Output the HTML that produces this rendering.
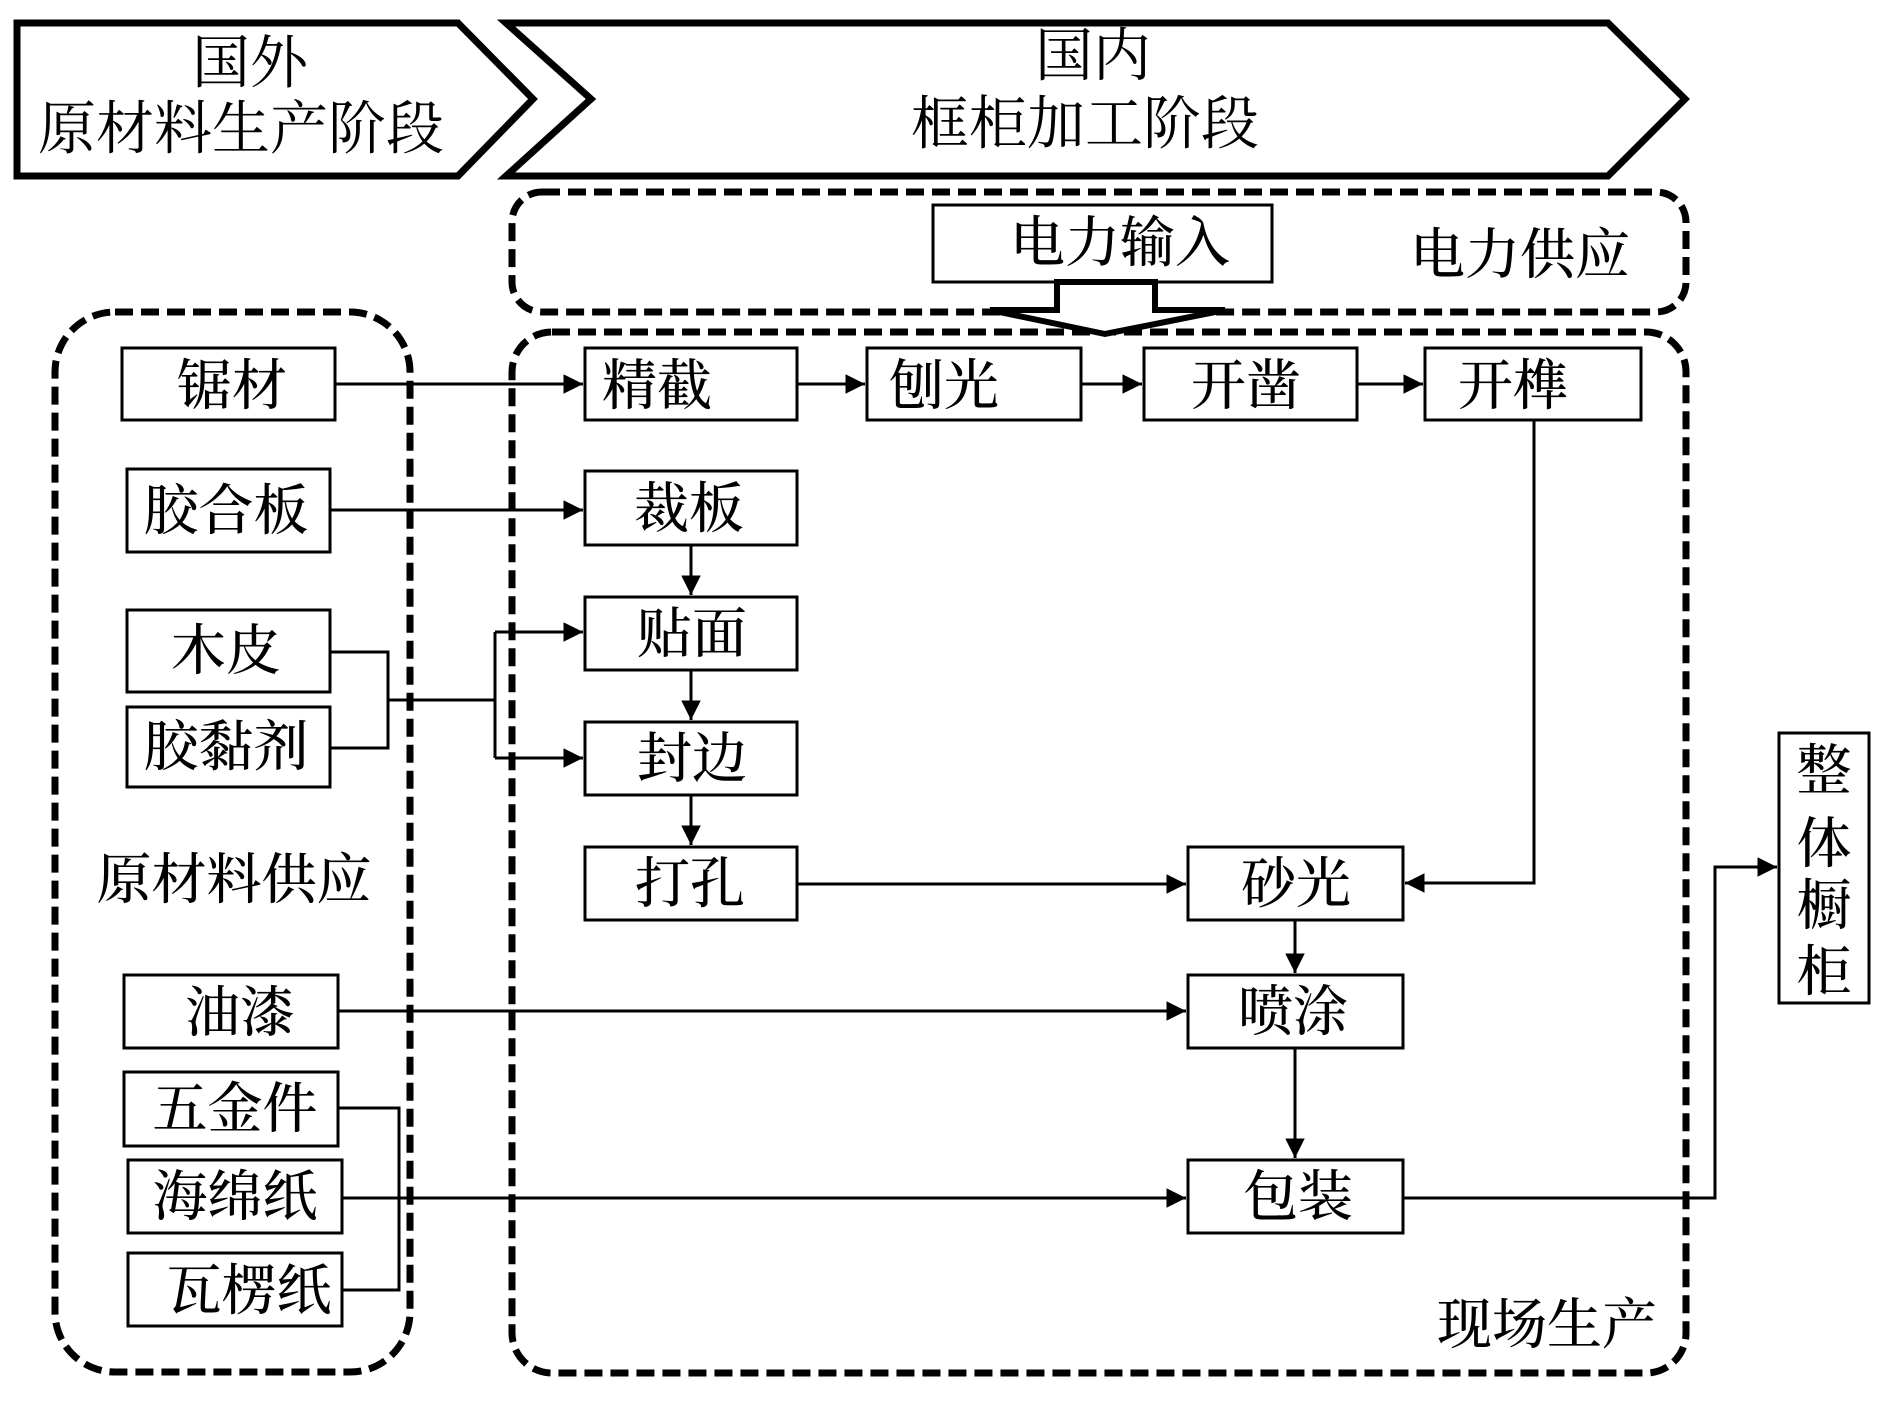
<!DOCTYPE html>
<html><head><meta charset="utf-8"><style>
html,body{margin:0;padding:0;background:#fff;}
svg{display:block;}
text{font-family:"Liberation Serif","Noto Serif CJK SC",serif;fill:#000;}
</style></head><body>
<svg width="1890" height="1417" viewBox="0 0 1890 1417" xmlns="http://www.w3.org/2000/svg">
<defs>
<marker id="ah" viewBox="0 0 10 10" refX="10" refY="5" markerWidth="7" markerHeight="6.5" markerUnits="strokeWidth" orient="auto">
<path d="M0,0 L10,5 L0,10 z" fill="#000"/></marker>
</defs>
<!-- banners -->
<polygon points="17,23 458,23 533,99 458,176 17,176" fill="none" stroke="#000" stroke-width="7"/>
<polygon points="506,23 1608,23 1685,99 1608,176 506,176 591,99" fill="none" stroke="#000" stroke-width="7"/>
<g font-size="58" text-anchor="middle" dominant-baseline="central">
<text x="250" y="63">国外</text>
<text x="241" y="129">原材料生产阶段</text>
<text x="1093" y="56">国内</text>
<text x="1085" y="124">框柜加工阶段</text>
</g>
<!-- dashed groups -->
<g fill="none" stroke="#000" stroke-width="7" stroke-dasharray="18,8">
<rect x="512" y="192" width="1174" height="120" rx="30"/>
<rect x="512" y="332" width="1174" height="1041" rx="40"/>
<rect x="55" y="312" width="355" height="1060" rx="60"/>
</g>
<!-- boxes -->
<g fill="#fff" stroke="#000" stroke-width="3">
<rect x="933" y="205" width="339" height="77"/>
<rect x="122" y="348" width="213" height="72"/>
<rect x="127" y="469" width="203" height="83"/>
<rect x="127" y="610" width="203" height="82"/>
<rect x="127" y="707" width="203" height="80"/>
<rect x="124" y="975" width="214" height="73"/>
<rect x="124" y="1072" width="214" height="74"/>
<rect x="128" y="1160" width="214" height="73"/>
<rect x="128" y="1253" width="214" height="73"/>
<rect x="585" y="348" width="212" height="72"/>
<rect x="867" y="348" width="214" height="72"/>
<rect x="1144" y="348" width="213" height="72"/>
<rect x="1425" y="348" width="216" height="72"/>
<rect x="585" y="471" width="212" height="74"/>
<rect x="585" y="597" width="212" height="73"/>
<rect x="585" y="722" width="212" height="73"/>
<rect x="585" y="847" width="212" height="73"/>
<rect x="1188" y="847" width="215" height="73"/>
<rect x="1188" y="975" width="215" height="73"/>
<rect x="1188" y="1160" width="215" height="73"/>
<rect x="1779" y="733" width="90" height="270"/>
</g>
<!-- hollow arrow -->
<polygon points="1057,282 1155,282 1155,310 1225,310 1105,334 990,310 1057,310" fill="#fff" stroke="#000" stroke-width="6" stroke-linejoin="miter"/>
<!-- connectors -->
<g fill="none" stroke="#000" stroke-width="3">
<path d="M335,384 H583" marker-end="url(#ah)"/>
<path d="M797,384 H865" marker-end="url(#ah)"/>
<path d="M1081,384 H1142" marker-end="url(#ah)"/>
<path d="M1357,384 H1423" marker-end="url(#ah)"/>
<path d="M330,510 H583" marker-end="url(#ah)"/>
<path d="M691,545 V595" marker-end="url(#ah)"/>
<path d="M691,670 V720" marker-end="url(#ah)"/>
<path d="M691,795 V845" marker-end="url(#ah)"/>
<path d="M330,652 H388 V748 H330"/>
<path d="M388,700 H495"/>
<path d="M495,632 V758"/>
<path d="M495,632 H583" marker-end="url(#ah)"/>
<path d="M495,758 H583" marker-end="url(#ah)"/>
<path d="M797,884 H1186" marker-end="url(#ah)"/>
<path d="M1534,420 V883 H1405" marker-end="url(#ah)"/>
<path d="M1295,920 V973" marker-end="url(#ah)"/>
<path d="M338,1011 H1186" marker-end="url(#ah)"/>
<path d="M1295,1048 V1158" marker-end="url(#ah)"/>
<path d="M338,1108 H399 V1290 H342"/>
<path d="M342,1198 H1186" marker-end="url(#ah)"/>
<path d="M1403,1198 H1715 V867 H1777" marker-end="url(#ah)"/>
</g>
<!-- labels -->
<g font-size="55" font-weight="500" text-anchor="middle" dominant-baseline="central">
<text x="1120" y="243">电力输入</text>
<text x="1520" y="255">电力供应</text>
<text x="232" y="386">锯材</text>
<text x="226" y="511">胶合板</text>
<text x="226" y="651">木皮</text>
<text x="226" y="747">胶黏剂</text>
<text x="234" y="880">原材料供应</text>
<text x="240" y="1013">油漆</text>
<text x="235" y="1109">五金件</text>
<text x="235" y="1197">海绵纸</text>
<text x="249" y="1291">瓦楞纸</text>
<text x="657" y="386">精截</text>
<text x="944" y="386">刨光</text>
<text x="1246" y="386">开凿</text>
<text x="1513" y="386">开榫</text>
<text x="689" y="509">裁板</text>
<text x="692" y="634">贴面</text>
<text x="692" y="759">封边</text>
<text x="690" y="884">打孔</text>
<text x="1296" y="884">砂光</text>
<text x="1293" y="1012">喷涂</text>
<text x="1298" y="1197">包装</text>
<text x="1547" y="1325">现场生产</text>
<text x="1824" y="771">整</text>
<text x="1824" y="844">体</text>
<text x="1824" y="906">橱</text>
<text x="1824" y="972">柜</text>
</g>
</svg>
</body></html>
